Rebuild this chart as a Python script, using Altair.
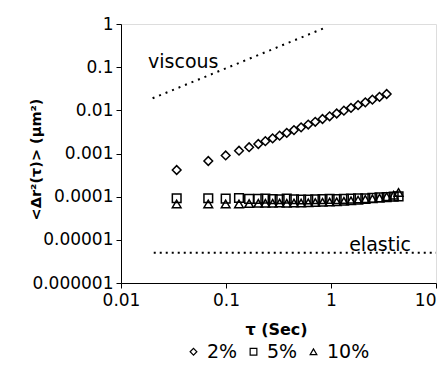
import altair as alt
import pandas as pd

# lag times (s)
tau_2 = [0.0339, 0.0678, 0.0993, 0.133, 0.166, 0.203, 0.237, 0.278, 0.324, 0.379,
         0.444, 0.519, 0.607, 0.708, 0.830, 0.970, 1.133, 1.327, 1.550, 1.811,
         2.122, 2.478, 2.897, 3.390]
tau_5 = tau_2 + [3.95, 4.40]
tau_10 = tau_2 + [3.95, 4.40]

msd_2 = [4.15e-4, 6.7e-4, 9.0e-4, 1.16e-3, 1.40e-3, 1.66e-3, 1.93e-3, 2.24e-3, 2.59e-3, 3.00e-3,
         3.48e-3, 4.03e-3, 4.68e-3, 5.43e-3, 6.30e-3, 7.28e-3, 8.45e-3, 9.82e-3, 1.14e-2, 1.32e-2,
         1.53e-2, 1.77e-2, 2.05e-2, 2.39e-2]
msd_5 = [9.2e-5, 9.2e-5, 9.0e-5, 9.3e-5, 8.9e-5, 8.9e-5, 9.0e-5, 8.8e-5, 8.7e-5, 9.0e-5,
         8.7e-5, 8.6e-5, 8.6e-5, 8.7e-5, 8.8e-5, 8.9e-5, 8.8e-5, 8.9e-5, 9.0e-5, 9.1e-5,
         9.2e-5, 9.4e-5, 9.6e-5, 9.8e-5, 1.0e-4, 1.02e-4]
msd_10 = [6.8e-5, 6.8e-5, 6.8e-5, 6.8e-5, 6.9e-5, 7.0e-5, 7.0e-5, 7.0e-5, 7.1e-5, 7.0e-5,
          7.1e-5, 7.1e-5, 7.2e-5, 7.3e-5, 7.4e-5, 7.5e-5, 7.6e-5, 7.8e-5, 8.0e-5, 8.3e-5,
          8.6e-5, 8.9e-5, 9.3e-5, 1.0e-4, 1.08e-4, 1.25e-4]

series = ["2%", "5%", "10%"]
shapes = ["diamond", "square", "triangle-up"]

viscous_tau = [0.02, 0.88]
viscous_msd = [0.019, 0.82]
elastic_tau = [0.0205, 10]
elastic_msd = [5e-6, 5e-6]

labels = ["viscous", "elastic"]
label_tau = [0.0181, 1.49]
label_msd = [0.094, 5.6e-6]

x_ticks = [0.01, 0.1, 1, 10]
y_ticks = [1e-6, 1e-5, 1e-4, 1e-3, 1e-2, 1e-1, 1]

rows = []
for s, ts, vs in zip(series, [tau_2, tau_5, tau_10], [msd_2, msd_5, msd_10]):
    for t, v in zip(ts, vs):
        rows.append({"tau": t, "msd": v, "series": s})
df = pd.DataFrame(rows)

FONT = "DejaVu Sans"
xscale = alt.Scale(type="log", domain=[0.01, 10], nice=False)
yscale = alt.Scale(type="log", domain=[1e-6, 1], nice=False)

xaxis = alt.Axis(values=x_ticks, format=".2~f", grid=False, title="τ (Sec)",
                 titleFontWeight="bold", titleFontSize=16, titleFont=FONT,
                 titleX=155, titleY=46, titleBaseline="middle",
                 labelFontSize=17, labelFont=FONT, labelPadding=4,
                 labelAlign={"condition": {"test": "datum.value >= 10", "value": "right"},
                             "value": "center"},
                 tickSize=5, tickColor="black", domainColor="black", labelColor="black",
                 labelFlush=False)
yaxis = alt.Axis(values=y_ticks, format=".6~f", grid=False, title="<Δr²(τ)> (μm²)",
                 titleFontWeight="bold", titleFontSize=14.5, titleFont=FONT,
                 titleX=-85, titleY=135, titleAngle=270, titleBaseline="middle",
                 titleAlign="center",
                 labelFontSize=17, labelFont=FONT, labelPadding=3,
                 tickSize=5, tickColor="black", domainColor="black", labelColor="black",
                 labelFlush=False)

points = alt.Chart(df).mark_point(filled=False, strokeWidth=1.5, color="black",
                                  opacity=1, size=75).encode(
    x=alt.X("tau:Q", scale=xscale, axis=xaxis),
    y=alt.Y("msd:Q", scale=yscale, axis=yaxis),
    shape=alt.Shape("series:N", sort=series,
                    scale=alt.Scale(domain=series, range=shapes),
                    legend=alt.Legend(title=None, orient="none", legendX=63, legendY=318,
                                      direction="horizontal", labelFontSize=19,
                                      labelFont=FONT, symbolSize=45,
                                      symbolStrokeColor="black", symbolStrokeWidth=1.2,
                                      columnPadding=6, labelOffset=4)),
)

vis_df = pd.DataFrame({"tau": viscous_tau, "msd": viscous_msd})
ela_df = pd.DataFrame({"tau": elastic_tau, "msd": elastic_msd})

viscous = alt.Chart(vis_df).mark_line(color="black", strokeWidth=2, strokeDash=[2, 5]).encode(
    x=alt.X("tau:Q", scale=xscale), y=alt.Y("msd:Q", scale=yscale))
elastic = alt.Chart(ela_df).mark_line(color="black", strokeWidth=2, strokeDash=[2, 4]).encode(
    x=alt.X("tau:Q", scale=xscale), y=alt.Y("msd:Q", scale=yscale))

lab_df = pd.DataFrame({"tau": label_tau, "msd": label_msd, "label": labels})
texts = alt.Chart(lab_df).mark_text(align="left", baseline="alphabetic", font=FONT,
                                    fontSize=19, color="black").encode(
    x=alt.X("tau:Q", scale=xscale), y=alt.Y("msd:Q", scale=yscale), text="label:N")

chart = alt.layer(viscous, elastic, texts, points).properties(
    width=315, height=259,
    autosize=alt.AutoSizeParams(type="none"),
    padding={"left": 113, "top": 16, "right": 2, "bottom": 79},
).configure_view(stroke="#666", strokeWidth=1).configure(background="white")

chart.save("out.html", embed_options={"renderer": "svg", "actions": False})
